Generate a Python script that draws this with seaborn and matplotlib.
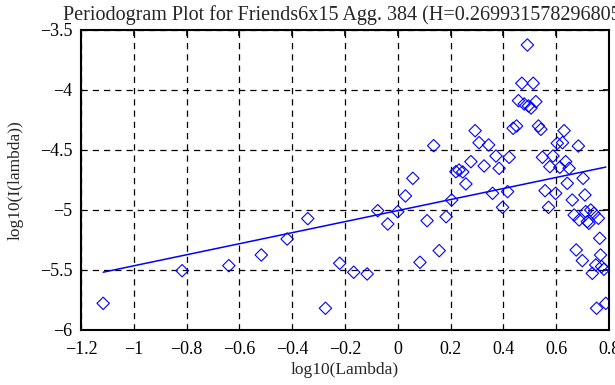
import numpy as np
import pandas as pd
import matplotlib
matplotlib.use('Agg')
import matplotlib.pyplot as plt
import seaborn as sns

# periodogram points
log_lambda = [-1.116, -0.817, -0.640, -0.517, -0.419, -0.341, -0.274, -0.220,
              -0.167, -0.116, -0.076, -0.038, 0.000, 0.029, 0.057, 0.084,
              0.111, 0.136, 0.157, 0.183, 0.204, 0.220, 0.232, 0.246,
              0.258, 0.277, 0.293, 0.308, 0.327, 0.344, 0.359, 0.372,
              0.384, 0.397, 0.416, 0.422, 0.437, 0.450, 0.457, 0.470,
              0.479, 0.491, 0.495, 0.505, 0.513, 0.523, 0.533, 0.542,
              0.548, 0.558, 0.571, 0.576, 0.588, 0.598, 0.604, 0.614,
              0.624, 0.630, 0.636, 0.642, 0.649, 0.661, 0.668, 0.676,
              0.684, 0.687, 0.699, 0.702, 0.709, 0.712, 0.718, 0.724,
              0.731, 0.737, 0.743, 0.750, 0.753, 0.760, 0.765, 0.768,
              0.772, 0.781, 0.788]
log_I = [-5.778, -5.506, -5.464, -5.375, -5.242, -5.072, -5.819, -5.444,
         -5.519, -5.533, -5.006, -5.117, -5.014, -4.883, -4.736, -5.436,
         -5.089, -4.464, -5.339, -5.056, -4.917, -4.681, -4.667, -4.683,
         -4.783, -4.597, -4.339, -4.439, -4.633, -4.458, -4.861, -4.550,
         -4.653, -4.978, -4.847, -4.561, -4.319, -4.300, -4.089, -3.944,
         -4.117, -3.625, -4.133, -4.150, -3.944, -4.097, -4.300, -4.328,
         -4.561, -4.839, -4.978, -4.639, -4.550, -4.861, -4.444, -4.644,
         -4.439, -4.339, -4.597, -4.778, -4.653, -4.917, -5.042, -5.333,
         -4.467, -5.083, -5.422, -4.736, -4.875, -5.014, -5.097, -5.111,
         -5.000, -5.528, -5.028, -5.458, -5.819, -5.069, -5.236, -5.375,
         -5.472, -5.494, -5.778]

H = 0.269931578296805
fit_slope = 1 - 2 * H
fit_intercept = -5.005

df = pd.DataFrame({'x': log_lambda, 'y': log_I})
fit_x = [min(log_lambda), max(log_lambda)]
fit_df = pd.DataFrame({'x': fit_x, 'y': [fit_intercept + fit_slope * v for v in fit_x]})

sns.set_style('white')
plt.rcParams['font.family'] = ['Liberation Serif', 'DejaVu Serif']

fig = plt.figure(figsize=(6.15, 3.85), dpi=100)
ax = fig.add_axes([0.1317, 0.1429, 0.8585, 0.7792])

sns.scatterplot(data=df, x='x', y='y', marker='D', s=40, facecolor='none',
                edgecolor='blue', linewidth=0.8, ax=ax, zorder=3)
sns.lineplot(data=fit_df, x='x', y='y', color='blue', linewidth=1.1, ax=ax, zorder=4)

ax.set_xlim(-1.2, 0.8)
ax.set_ylim(-6, -3.5)
ax.set_xticks(np.arange(-1.2, 0.81, 0.2))
ax.set_yticks(np.arange(-6, -3.49, 0.5))
ax.set_xticklabels(['\u22121.2', '\u22121', '\u22120.8', '\u22120.6', '\u22120.4',
                    '\u22120.2', '0', '0.2', '0.4', '0.6', '0.8'])
ax.set_yticklabels(['\u22126', '\u22125.5', '\u22125', '\u22124.5', '\u22124', '\u22123.5'])
ax.grid(True, color='black', linestyle=(0, (5, 4)), linewidth=0.9)
ax.tick_params(direction='in', length=4, width=1.2, top=True, right=True,
               labelsize=13, colors='black')
ax.tick_params(axis='x', pad=8)
ax.tick_params(axis='y', pad=6)
for sp in ax.spines.values():
    sp.set_visible(True)
    sp.set_color('black')
    sp.set_linewidth(1.5)

ax.set_xlabel('log10(Lambda)', fontsize=12.5, labelpad=3)
ax.set_ylabel('log10(I(lambda))', fontsize=12.5, labelpad=12)
ax.set_title('Periodogram Plot for Friends6x15 Agg. 384 (H=%s)' % repr(H),
             fontsize=14.5, pad=7)

fig.savefig('out.png', dpi=100)
